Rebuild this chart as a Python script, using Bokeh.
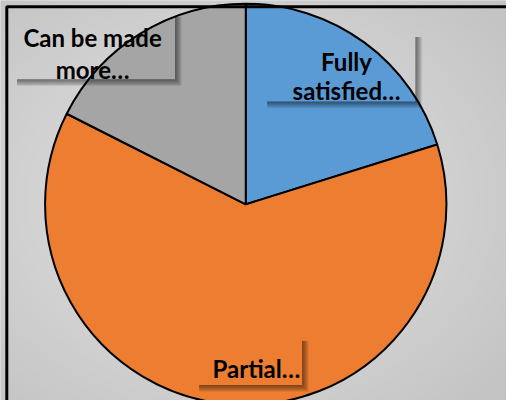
import numpy as np
from bokeh.plotting import figure
from bokeh.models import Range1d, ColumnDataSource
from bokeh.core.properties import value
from bokeh.embed import file_html
from bokeh.resources import INLINE

# data
categories = ["Fully satisfied…", "Partial…", "Can be made more…"]
counts = [23, 71, 20]
colors = ["#5B9BD5", "#ED7D31", "#A5A5A5"]
label_lines = [["Fully", "satisfied…"], ["Partial…"], ["Can be made", "more…"]]

W, H = 506, 400
RW, RH = 522, 416
# data coordinates: x = reference pixel, y = 416 - reference pixel
p = figure(width=W, height=H, output_backend="svg", toolbar_location=None,
           x_range=Range1d(0, RW), y_range=Range1d(0, RH),
           min_border=0, outline_line_color=None)
p.axis.visible = False
p.grid.visible = False
p.background_fill_color = "#d6d6d6"
p.border_fill_color = "#d6d6d6"

# radial gradient background (styling only)
ny, nx = 104, 130
gx = np.linspace(0, 1, nx)
gy = np.linspace(0, 1, ny)
GX, GY = np.meshgrid(gx, gy)
d = np.sqrt(((GX - 0.45) / 0.7) ** 2 + ((GY - 0.5) / 0.7) ** 2)
g = np.clip(228 - 32 * d, 192, 230).astype(np.uint32)
img = ((255 << 24) | (g << 16) | (g << 8) | g).astype(np.uint32)
p.image_rgba(image=[img], x=-4, y=-4, dw=RW + 8, dh=RH + 8)

# pie
total = sum(counts)
fr = np.array(counts) / total
ends = np.pi / 2 - np.cumsum(fr) * 2 * np.pi
starts = np.concatenate([[np.pi / 2], ends[:-1]])
cx, cy, r = 253, RH - 212, 207
src = ColumnDataSource(dict(start=ends, end=starts, color=colors, cat=categories))
p.wedge(x=cx, y=cy, radius=r, start_angle="start", end_angle="end",
        fill_color="color", line_color="black", line_width=2, source=src)

# label boxes (left, right, top, bottom in reference pixels), text center x, baselines
boxes = [(270, 428, 33, 105), (200, 311, 349, 400), (12, 180, 12, 82)]
text_x = [357, 264, 95]
baselines = [[63, 94], [383], [38, 72]]

for (l, rr, t, b) in boxes:
    for k in range(1, 8):
        a = 0.08
        p.quad(left=rr, right=rr + k, top=RH - (t + 5), bottom=RH - (b + k),
               fill_color="black", fill_alpha=a, line_color=None)
        p.quad(left=l + 5, right=rr, top=RH - b, bottom=RH - (b + k),
               fill_color="black", fill_alpha=a, line_color=None)

xs, ys, ts = [], [], []
for i, lines in enumerate(label_lines):
    for j, s in enumerate(lines):
        xs.append(text_x[i])
        ys.append(RH - baselines[i][j])
        ts.append(s)
p.text(x=xs, y=ys, text=ts, text_font=value("Lato"), text_font_style="bold",
       text_font_size="24px", text_align="center", text_baseline="alphabetic",
       text_color="black")

# black border on left and top
p.line(x=[6.5, 6.5, RW + 10], y=[-10, RH - 6.5, RH - 6.5], line_color="black", line_width=3)

open("out.html", "w").write(file_html(p, INLINE))
